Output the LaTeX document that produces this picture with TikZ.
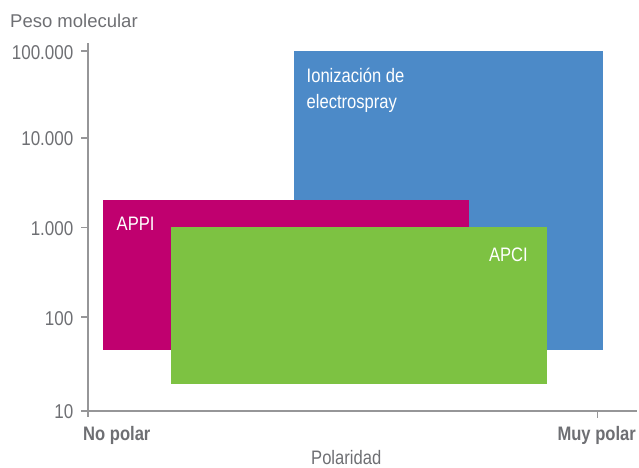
\documentclass[tikz,border=0pt]{standalone}
\usepackage{fontspec}
\setmainfont{Liberation Sans}[FakeStretch=0.85]
\newfontfamily\widefont{Liberation Sans}
\definecolor{esiblue}{RGB}{76,138,200}
\definecolor{appimag}{RGB}{192,0,111}
\definecolor{apcigreen}{RGB}{125,194,66}
\definecolor{txtgray}{RGB}{110,111,115}
\definecolor{axgray}{RGB}{150,150,152}
\begin{document}
\begin{tikzpicture}[x=1pt,y=-1pt,
  lbl/.style={inner sep=0pt, font=\fontsize{19.5}{22}\selectfont},
  graylbl/.style={lbl, text=txtgray},
  whitelbl/.style={lbl, text=white},
  ticklbl/.style={inner sep=0pt, text=txtgray, font=\fontsize{20}{22}\selectfont, anchor=base east},
  axis/.style={draw=axgray, line width=1.8pt},
  tick/.style={draw=axgray, line width=1.4pt}]
\useasboundingbox (0,0) rectangle (639,467);
% regions
\fill[esiblue] (294,51) rectangle (603,350);
\fill[appimag] (103,200) rectangle (469,350);
\fill[apcigreen] (171,227) rectangle (547,384);
% axes
\coordinate (ytop) at (88,43);
\coordinate (orig) at (88,411);
\coordinate (xend) at (637,411);
\draw[axis] (ytop) -- (orig) -- (xend);
\foreach \y in {51,138,227.7,317,411} \draw[tick] (81,\y) -- (88,\y);
\draw[tick] (88,411) -- (88,417);
\draw[draw=axgray, line width=1pt] (597,411) -- (597,418);
% tick labels
\node[ticklbl] (t5) at (73.5,59) {100.000};
\node[ticklbl] (t4) at (73.5,145.5) {10.000};
\node[ticklbl] (t3) at (73.5,235.2) {1.000};
\node[ticklbl] (t2) at (73.5,325) {100};
\node[ticklbl] (t1) at (73.5,418.3) {10};
% axis titles
\node[inner sep=0pt, text=txtgray, font=\widefont\fontsize{18.5}{22}\selectfont, anchor=base west] (ylab) at (10,27.5) {Peso molecular};
\node[graylbl, anchor=base west] (xlab) at (311,464) {Polaridad};
\node[graylbl, anchor=base west, font=\fontsize{19.5}{22}\selectfont\bfseries] (nopol) at (83,440) {No polar};
\node[graylbl, anchor=base east, font=\fontsize{19.5}{22}\selectfont\bfseries] (muypol) at (636,440) {Muy polar};
% region labels
\node[whitelbl, anchor=base west] (esi1) at (306.5,82.7) {Ionización de};
\node[whitelbl, anchor=base west] (esi2) at (306.5,108.3) {electrospray};
\node[whitelbl, anchor=base west] (appi) at (116.5,230) {APPI};
\node[whitelbl, anchor=base east] (apci) at (528,261) {APCI};
\end{tikzpicture}
\end{document}
